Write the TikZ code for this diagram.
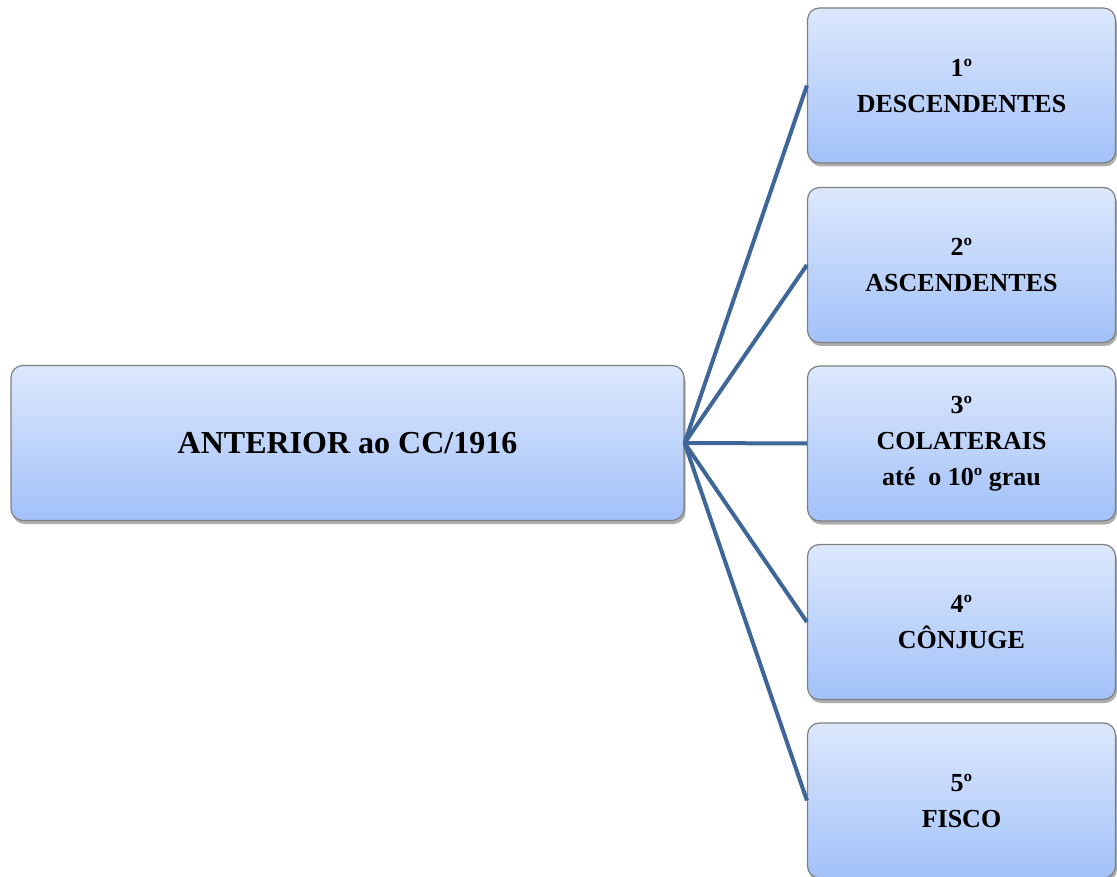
\documentclass[tikz,border=0pt]{standalone}
\usepackage{fontspec}
\setmainfont{Liberation Serif}
\usetikzlibrary{shadows}
\definecolor{topc}{HTML}{DDE8FC}
\definecolor{botc}{HTML}{A2C1F9}
\definecolor{edgec}{HTML}{7F7F7F}
\definecolor{linec}{HTML}{3E6699}
\begin{document}
\begin{tikzpicture}[x=1pt,y=-1pt,
  box/.style={draw=edgec, line width=1.2pt, rounded corners=12pt,
    top color=topc, bottom color=botc, align=center, inner sep=0pt,
    drop shadow={opacity=0.45, shadow xshift=1.5pt, shadow yshift=-3.5pt, fill=black!70}},
  mainbox/.style={box, minimum width=673pt, minimum height=155pt,
    font=\fontsize{32}{36}\selectfont\bfseries},
  sidebox/.style={box, minimum width=308pt, minimum height=155pt,
    font=\fontsize{26}{36}\selectfont\bfseries},
  conn/.style={draw=linec, line width=4pt}]
\useasboundingbox (0,0) rectangle (1117,877);
\node[mainbox] (main) at (347.5,443) {ANTERIOR ao CC/1916};
\node[sidebox] (b1) at (961.5,85.5) {1º\\DESCENDENTES};
\node[sidebox] (b2) at (961.5,265) {2º\\ASCENDENTES};
\node[sidebox] (b3) at (961.5,443.5) {3º\\COLATERAIS\\até\ \ o 10º grau};
\node[sidebox] (b4) at (961.5,622) {4º\\CÔNJUGE};
\node[sidebox] (b5) at (961.5,800.5) {5º\\FISCO};
\foreach \b in {b1,b2,b3,b4,b5}
  \draw[conn] (main.east) -- (\b.west);
\end{tikzpicture}
\end{document}
